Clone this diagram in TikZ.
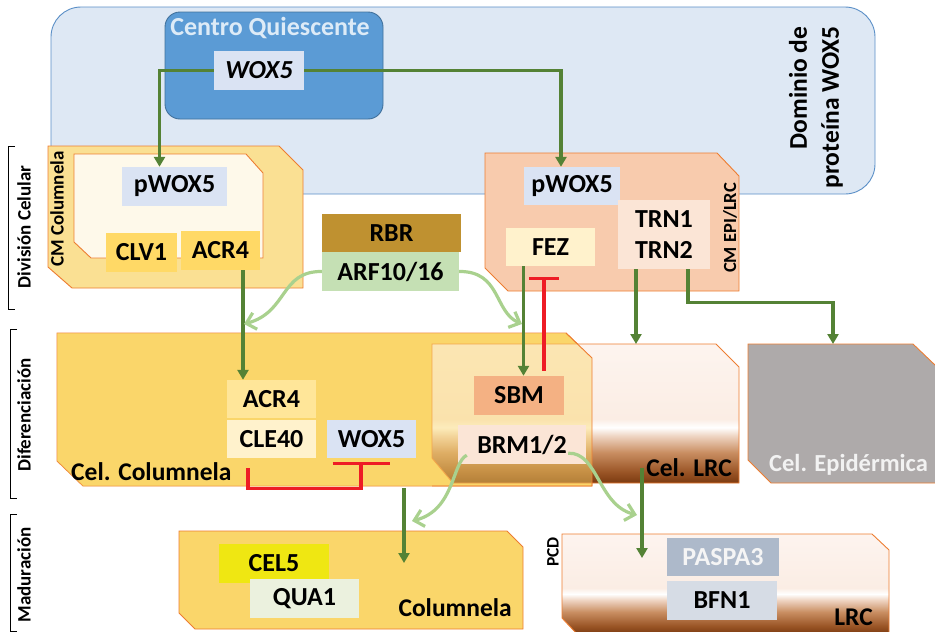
\documentclass[tikz,border=0pt]{standalone}
\usepackage{fontspec}
\setmainfont{Carlito}
\usetikzlibrary{arrows.meta}

\definecolor{domfill}{HTML}{DEE8F4}
\definecolor{domline}{HTML}{5B8FC7}
\definecolor{qcfill}{HTML}{5B9BD5}
\definecolor{qcline}{HTML}{41719C}
\definecolor{qctext}{HTML}{DDEBF7}
\definecolor{cellline}{HTML}{ED7D31}
\definecolor{genblue}{HTML}{DAE3F3}
\definecolor{genyellow}{HTML}{FFD966}
\definecolor{colfill}{HTML}{FAD66A}
\definecolor{cmcolout}{HTML}{FAE093}
\definecolor{cmcolin}{HTML}{FEF9EA}
\definecolor{cmepi}{HTML}{F8CBAD}
\definecolor{rbrfill}{HTML}{BF9130}
\definecolor{arffill}{HTML}{C5E0B4}
\definecolor{peach}{HTML}{FBE5D6}
\definecolor{cream}{HTML}{FFF2CC}
\definecolor{sbmfill}{HTML}{F4B183}
\definecolor{acrlight}{HTML}{FFE699}
\definecolor{celfill}{HTML}{EFE712}
\definecolor{quafill}{HTML}{EBF1DE}
\definecolor{paspafill}{HTML}{ADB9CA}
\definecolor{bfnfill}{HTML}{D6DCE5}
\definecolor{epifill}{HTML}{AEAAAA}
\definecolor{actgreen}{HTML}{548235}
\definecolor{modgreen}{HTML}{A9D18E}
\definecolor{inhred}{HTML}{EE1C25}
\definecolor{lrcA}{HTML}{7B3A10}
\definecolor{lrcB}{HTML}{9A5526}
\definecolor{lrcC}{HTML}{C98E62}
\definecolor{lrcD}{HTML}{EFD5C3}
\definecolor{lrcE}{HTML}{FBEDE4}
\definecolor{lrcF}{HTML}{FDF4EF}

\pgfdeclareverticalshading{lrcfade}{100bp}{color(0bp)=(lrcA); color(25bp)=(lrcA); color(29bp)=(lrcB); color(36bp)=(lrcC); color(42bp)=(lrcD); color(45bp)=(white); color(48bp)=(lrcE); color(75bp)=(lrcF); color(100bp)=(lrcF)}

\begin{document}
\begin{tikzpicture}[x=1pt, y=-1pt,
    gene/.style={rectangle, inner sep=0pt, font=\bfseries\fontsize{26}{30}\selectfont},
    cellbox/.style={draw=cellline, line width=0.9pt},
    act/.style={draw=actgreen, line width=3.2pt, -{Triangle[length=10pt,width=11pt]}},
    mod/.style={draw=modgreen, line width=3.2pt, -{Straight Barb[length=9pt,width=17pt]}},
    inh/.style={draw=inhred, line width=3.2pt},
    tag/.style={font=\bfseries\fontsize{19}{22}\selectfont, rotate=90, inner sep=0pt},
    celltext/.style={font=\bfseries\fontsize{25.5}{30}\selectfont, inner sep=0pt}]
    \useasboundingbox (0,0) rectangle (935,632);

    % dominio WOX5 y centro quiescente
    \draw[draw=domline, fill=domfill, line width=0.9pt, rounded corners=30] (51,7) rectangle (875,194);
    \node[font=\bfseries\fontsize{25.5}{32}\selectfont, rotate=90, align=right] (dominio) at (816,107.5) {Dominio de\\proteína WOX5};
    \draw[draw=qcline, fill=qcfill, line width=0.9pt, rounded corners=15] (165,12) rectangle (383,119);
    \node[celltext, text=qctext, font=\bfseries\fontsize{26}{30}\selectfont] (qc) at (270,28) {Centro Quiescente};
    \node[gene, fill=genblue, minimum width=90, minimum height=39, font=\bfseries\itshape\fontsize{26}{30}\selectfont] (woxqc) at (259,70.5) {WOX5};

    % division celular
    \draw[cellbox, fill=cmcolout] (48,146) -- (279,146) -- (303,170) -- (303,288) -- (72,288) -- (48,267) -- cycle;
    \draw[cellbox, fill=cmcolin] (74,154) -- (246,154) -- (263,173) -- (263,258) -- (91,258) -- (74,242) -- cycle;
    \node[tag] (cmcol) at (57,209) {CM Columnela};
    \node[gene, fill=genblue, minimum width=105, minimum height=39] (pwoxcol) at (174.5,186.5) {pWOX5};
    \node[gene, fill=genyellow, minimum width=71, minimum height=39] (clv) at (141.5,252.5) {CLV1};
    \node[gene, fill=genyellow, minimum width=79, minimum height=39] (acra) at (220.5,250.5) {ACR4};

    \draw[cellbox, fill=cmepi] (485,153) -- (717,153) -- (739,176) -- (739,291) -- (508,291) -- (485,268) -- cycle;
    \node[tag, font=\bfseries\fontsize{18.5}{22}\selectfont] (cmepi) at (730,228) {CM EPI/LRC};
    \node[gene, fill=genblue, minimum width=96, minimum height=38] (pwoxepi) at (572,186) {pWOX5};
    \node[gene, fill=peach, minimum width=92, minimum height=69, align=center, font=\bfseries\fontsize{26}{31}\selectfont] (trn) at (664,234.5) {TRN1\\TRN2};
    \node[gene, fill=cream, minimum width=89, minimum height=38] (fez) at (550.5,247) {FEZ};

    \node[gene, fill=rbrfill, minimum width=139, minimum height=38] (rbr) at (391.5,233) {RBR};
    \node[gene, fill=arffill, minimum width=137, minimum height=39] (arf) at (390.5,271.5) {ARF10/16};

    % diferenciacion
    \draw[cellbox, fill=colfill] (57,333) -- (566,333) -- (592,358) -- (592,486) -- (83,486) -- (57,461) -- cycle;
    \shadedraw[shading=lrcfade, cellbox] (432,344) -- (716,344) -- (739,367) -- (739,483) -- (453,483) -- (432,458) -- cycle;
    \path[fill=colfill, fill opacity=0.45] (57,333) -- (566,333) -- (592,358) -- (592,486) -- (83,486) -- (57,461) -- cycle;
    \draw[cellbox] (566,333) -- (592,358) -- (592,486) -- (432,486);
    \draw[cellbox, fill=epifill] (748,344) -- (913,344) -- (936,366) -- (936,483) -- (771,483) -- (748,460) -- cycle;
    \node[celltext, anchor=west] (celcol) at (71,472) {Cel. Columnela};
    \node[celltext, anchor=east] (cellrc) at (732,468) {Cel. LRC};
    \node[celltext, anchor=west, text=white!95!black, font=\bfseries\fontsize{24.5}{30}\selectfont] (celepi) at (769,465) {Cel. Epidérmica};
    \node[gene, fill=acrlight, minimum width=89, minimum height=38] (acrb) at (271.5,399) {ACR4};
    \node[gene, fill=cream, minimum width=89, minimum height=38] (cle) at (271.5,439) {CLE40};
    \node[gene, fill=genblue, minimum width=89, minimum height=38] (woxdif) at (371.5,439) {WOX5};
    \node[gene, fill=sbmfill, minimum width=90, minimum height=39] (sbm) at (519,395.5) {SBM};
    \node[gene, fill=peach, minimum width=128, minimum height=39] (brm) at (522,444.5) {BRM1/2};

    % maduracion
    \draw[cellbox, fill=colfill] (179,531) -- (507,531) -- (523,547) -- (523,629) -- (195,629) -- (179,613) -- cycle;
    \shadedraw[shading=lrcfade, cellbox] (562,534) -- (872,534) -- (889,550) -- (889,634) -- (577,634) -- (562,618) -- cycle;
    \node[gene, fill=celfill, minimum width=110, minimum height=39] (cel) at (274,563.5) {CEL5};
    \node[gene, fill=quafill, minimum width=109, minimum height=39] (qua) at (304.5,598.5) {QUA1};
    \node[celltext, anchor=east] (columnela) at (512,608) {Columnela};
    \node[gene, fill=paspafill, minimum width=112, minimum height=38, text=white!96!black] (paspa) at (723,557) {PASPA3};
    \node[gene, fill=bfnfill, minimum width=110, minimum height=39] (bfn) at (722,600.5) {BFN1};
    \node[celltext, anchor=east] (lrc) at (873,617) {LRC};
    \node[tag, font=\bfseries\fontsize{17.5}{20}\selectfont] (pcd) at (553,552) {PCD};

    % etapas
    \draw[line width=0.9pt] (15,146) -- (8,146) -- (8,309) -- (15,309);
    \node[tag] (divcel) at (24,227) {División Celular};
    \draw[line width=0.9pt] (17,329) -- (10,329) -- (10,498) -- (17,498);
    \node[tag] (dif) at (24,415) {Diferenciación};
    \draw[line width=0.9pt] (17,514) -- (10,514) -- (10,631) -- (17,631);
    \node[tag] (mad) at (24,575) {Maduración};

    % puntos de llegada
    \coordinate (lrctop) at (636,344);
    \coordinate (epitop) at (833,344);
    \coordinate (colout) at (404,488);
    \coordinate (colin) at (404,563);
    \coordinate (lrcout) at (642,468);
    \coordinate (lrcin) at (642,558);
    \coordinate (arfl) at (244,324);
    \coordinate (arfr) at (522,324);
    \coordinate (brml) at (412,521);
    \coordinate (brmr) at (637,515);

    % conexiones
    \draw[act] (woxqc.west) -| ([xshift=-15pt]pwoxcol.north);
    \draw[act] (woxqc.east) -| ([xshift=-11pt]pwoxepi.north);
    \draw[act] ([xshift=22.5pt]acra.south) -- ([xshift=22.5pt]acra.south |- acrb.north);
    \draw[act] ([xshift=-27pt]fez.south) -- ([xshift=-27pt]fez.south |- sbm.north);
    \draw[inh, -{Bar[width=30pt]}] ([xshift=25pt,yshift=5pt]sbm.north) -- ([xshift=25pt,yshift=-11pt]sbm.north |- fez.south);
    \draw[act] (trn.south -| lrctop) -- (lrctop);
    \draw[act] ([xshift=24pt]trn.south) -- ++(0,33) -| (epitop);
    \draw[inh, -{Bar[width=57pt]}] ([xshift=-23.5pt,yshift=-10pt]cle.south) -- ++(0,20) -| ([xshift=-10.5pt,yshift=-4pt]woxdif.south);
    \draw[act] (colout) -- (colin);
    \draw[act] (lrcout) -- (lrcin);
    \draw[mod] (arf.west) .. controls (280,271) and (288,312) .. (arfl);
    \draw[mod] (arf.east) .. controls (501,271) and (494,312) .. (arfr);
    \draw[mod] ([xshift=9pt,yshift=9pt]brm.south west) .. controls (452,462) and (455,510) .. (brml);
    \draw[mod] ([xshift=-18pt,yshift=11pt]brm.south east) .. controls (598,452) and (598,505) .. (brmr);
\end{tikzpicture}
\end{document}
